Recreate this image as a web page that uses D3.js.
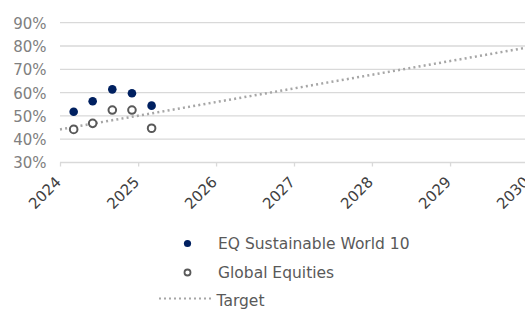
<!DOCTYPE html>
<html><head><meta charset="utf-8">
<script src="https://cdn.jsdelivr.net/npm/d3@7"></script>
<style>html,body{margin:0;padding:0;background:#fff;overflow:hidden}svg{display:block}</style>
</head><body>
<svg id="c" width="525" height="313"></svg>
<script>
const dates = ["2024-03-05","2024-06-02","2024-09-02","2024-12-03","2025-03-05"];
const eqValues = [51.8, 56.3, 61.4, 59.7, 54.4];
const globalValues = [44.2, 46.8, 52.5, 52.5, 44.7];
const targetDates = ["2024-01-01","2030-01-01"];
const targetValues = [44.2, 79.4];
const yTicks = [30,40,50,60,70,80,90];
const xTickYears = [2024,2025,2026,2027,2028,2029,2030];
const seriesNames = ["EQ Sustainable World 10","Global Equities","Target"];

const font = "'DejaVu Sans', sans-serif";
const svg = d3.select("#c");
const parse = d3.timeParse("%Y-%m-%d");
const x = d3.scaleTime().domain([new Date(2024,0,1), new Date(2030,0,1)]).range([60, 528]);
const y = d3.scaleLinear().domain([30,90]).range([162.5, 22.7]);

// gridlines
svg.append("g").selectAll("line").data(yTicks).join("line")
  .attr("x1", 60).attr("x2", 528)
  .attr("y1", d=>y(d)).attr("y2", d=>y(d))
  .attr("stroke", "#d9d9d9").attr("stroke-width", 1.3);

// y axis labels
const yAxis = d3.axisLeft(y).tickValues(yTicks).tickFormat(d=>d+"%").tickSize(0).tickPadding(0);
const gy = svg.append("g").attr("transform","translate(46.5,0)").call(yAxis);
gy.select(".domain").remove();
gy.selectAll("text").attr("font-family", font).attr("font-size", 15).attr("fill", "#808080").attr("dy","0.36em");

// x axis
const xAxis = d3.axisBottom(x).tickValues(xTickYears.map(yr=>new Date(yr,0,1))).tickFormat(d3.timeFormat("%Y")).tickSize(4).tickSizeOuter(0);
const gx = svg.append("g").attr("transform",`translate(0,${y(30)})`).call(xAxis);
gx.select(".domain").remove();
gx.selectAll(".tick line").attr("stroke","#d9d9d9").attr("stroke-width",1.3);
gx.selectAll("text").attr("font-family", font).attr("font-size", 15).attr("fill", "#404040")
  .attr("text-anchor","end").attr("dy","0").attr("y",0)
  .attr("transform","translate(1.5,20.5) rotate(-45)");

// target line
const line = d3.line().x(d=>x(parse(d[0]))).y(d=>y(d[1]));
svg.append("path").datum(targetDates.map((d,i)=>[d,targetValues[i]]))
  .attr("d", line).attr("fill","none").attr("stroke","#a6a6a6")
  .attr("stroke-width",2.5).attr("stroke-dasharray","2,3.2");

// global equities (hollow)
svg.append("g").selectAll("circle").data(globalValues).join("circle")
  .attr("cx",(d,i)=>x(parse(dates[i]))).attr("cy",d=>y(d)).attr("r",3.8)
  .attr("fill","#fff").attr("stroke","#595959").attr("stroke-width",2);

// EQ (navy)
svg.append("g").selectAll("circle").data(eqValues).join("circle")
  .attr("cx",(d,i)=>x(parse(dates[i]))).attr("cy",d=>y(d)).attr("r",4.3)
  .attr("fill","#002060");

// legend
const lg = svg.append("g");
lg.append("circle").attr("cx",187.5).attr("cy",243.5).attr("r",3.6).attr("fill","#002060");
lg.append("circle").attr("cx",187.5).attr("cy",272.5).attr("r",3).attr("fill","#fff").attr("stroke","#595959").attr("stroke-width",1.8);
lg.append("line").attr("x1",159).attr("x2",214).attr("y1",298.5).attr("y2",298.5)
  .attr("stroke","#a6a6a6").attr("stroke-width",2).attr("stroke-dasharray","2,3");
const ly = [243.5, 272.5, 300];
const lx = [218, 218, 216.5];
lg.selectAll("text").data(seriesNames).join("text")
  .attr("x",(d,i)=>lx[i]).attr("y",(d,i)=>ly[i]).attr("dy","0.36em")
  .attr("font-family",font).attr("font-size",15.5).attr("fill","#595959").text(d=>d);
</script>
</body></html>
